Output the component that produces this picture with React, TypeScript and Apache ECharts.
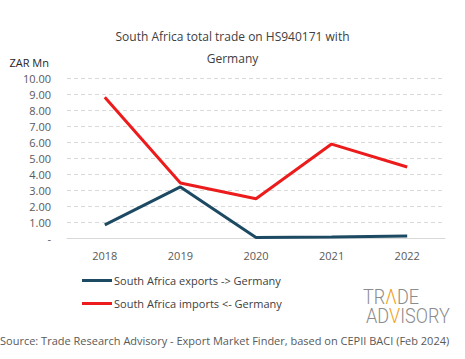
import React, { useEffect, useRef } from "react";
import * as echarts from "echarts";

const years = ["2018", "2019", "2020", "2021", "2022"];
const exportsToGermany = [0.82, 3.19, 0.03, 0.07, 0.12];
const importsFromGermany = [8.79, 3.44, 2.45, 5.87, 4.44];
const exportsName = "South Africa exports -> Germany";
const importsName = "South Africa imports <- Germany";
const titleText = "South Africa total trade on HS940171 with\n\nGermany";
const unitLabel = "ZAR Mn";
const sourceText = "Source: Trade Research Advisory - Export Market Finder, based on CEPII BACI (Feb 2024)";

const FONT = "'Open Sans', sans-serif";

export default function App() {
  const ref = useRef<HTMLDivElement>(null);
  useEffect(() => {
    if (!ref.current) return;
    const chart = echarts.init(ref.current, undefined, { renderer: "svg" });
    const logoRich = {
      g: { fontFamily: "Roboto", fontWeight: 300, fontSize: 21, fill: "#8c8c8c" },
      o: { fontFamily: "Roboto", fontWeight: 300, fontSize: 21, fill: "#f0a020" },
    };
    chart.setOption({
      animation: false,
      backgroundColor: "#ffffff",
      textStyle: { fontFamily: FONT },
      title: {
        text: titleText,
        left: "center",
        top: 26,
        textStyle: { fontFamily: FONT, fontSize: 12, fontWeight: "normal", color: "#404040", lineHeight: 11 },
      },
      grid: { left: 67, right: 20, top: 78, bottom: 121 },
      legend: {
        orient: "vertical",
        left: 77,
        top: 270,
        itemGap: 12,
        itemWidth: 30,
        itemHeight: 3,
        icon: "rect",
        textStyle: { fontFamily: FONT, fontSize: 11, color: "#404040", padding: [0, 0, 0, -3] },
        data: [exportsName, importsName],
      },
      xAxis: {
        type: "category",
        data: years,
        boundaryGap: true,
        axisLine: { lineStyle: { color: "#d9d9d9" } },
        axisTick: { show: false },
        axisLabel: { fontFamily: FONT, fontSize: 11, color: "#595959", margin: 12 },
      },
      yAxis: {
        type: "value",
        min: 0,
        max: 10,
        interval: 1,
        name: unitLabel,
        nameLocation: "end",
        nameGap: 10,
        nameTextStyle: { fontFamily: FONT, fontSize: 11, color: "#262626", align: "right", padding: [0, 18, 0, 0] },
        axisLine: { show: false },
        axisTick: { show: false },
        splitLine: { lineStyle: { color: "#d9d9d9", type: [4, 3] } },
        axisLabel: {
          fontFamily: FONT,
          fontSize: 11,
          color: "#595959",
          margin: 16,
          formatter: (v: number) => (v === 0 ? "-" : v.toFixed(2)),
        },
      },
      series: [
        {
          name: exportsName,
          type: "line",
          data: exportsToGermany,
          symbol: "none",
          color: "#1d4a63",
          lineStyle: { width: 3, color: "#1d4a63" },
        },
        {
          name: importsName,
          type: "line",
          data: importsFromGermany,
          symbol: "none",
          color: "#ec1c1c",
          lineStyle: { width: 3, color: "#ec1c1c" },
        },
      ],
      graphic: [
        {
          type: "text",
          left: 0,
          top: 335,
          style: { text: sourceText, font: `11px ${FONT}`, fill: "#595959" },
        },
        {
          type: "text",
          x: 363,
          y: 287,
          scaleX: 0.86,
          style: { text: "{g|TR}{o|Λ}{g|DE}", rich: logoRich },
        },
        {
          type: "text",
          x: 366,
          y: 306,
          scaleX: 0.86,
          style: { text: "{g|AD}{o|V}{g|ISORY}", rich: logoRich },
        },
      ],
    });
    return () => chart.dispose();
  }, []);
  return <div ref={ref} style={{ width: 465, height: 359, position: "absolute", left: 0, top: 0 }} />;
}
